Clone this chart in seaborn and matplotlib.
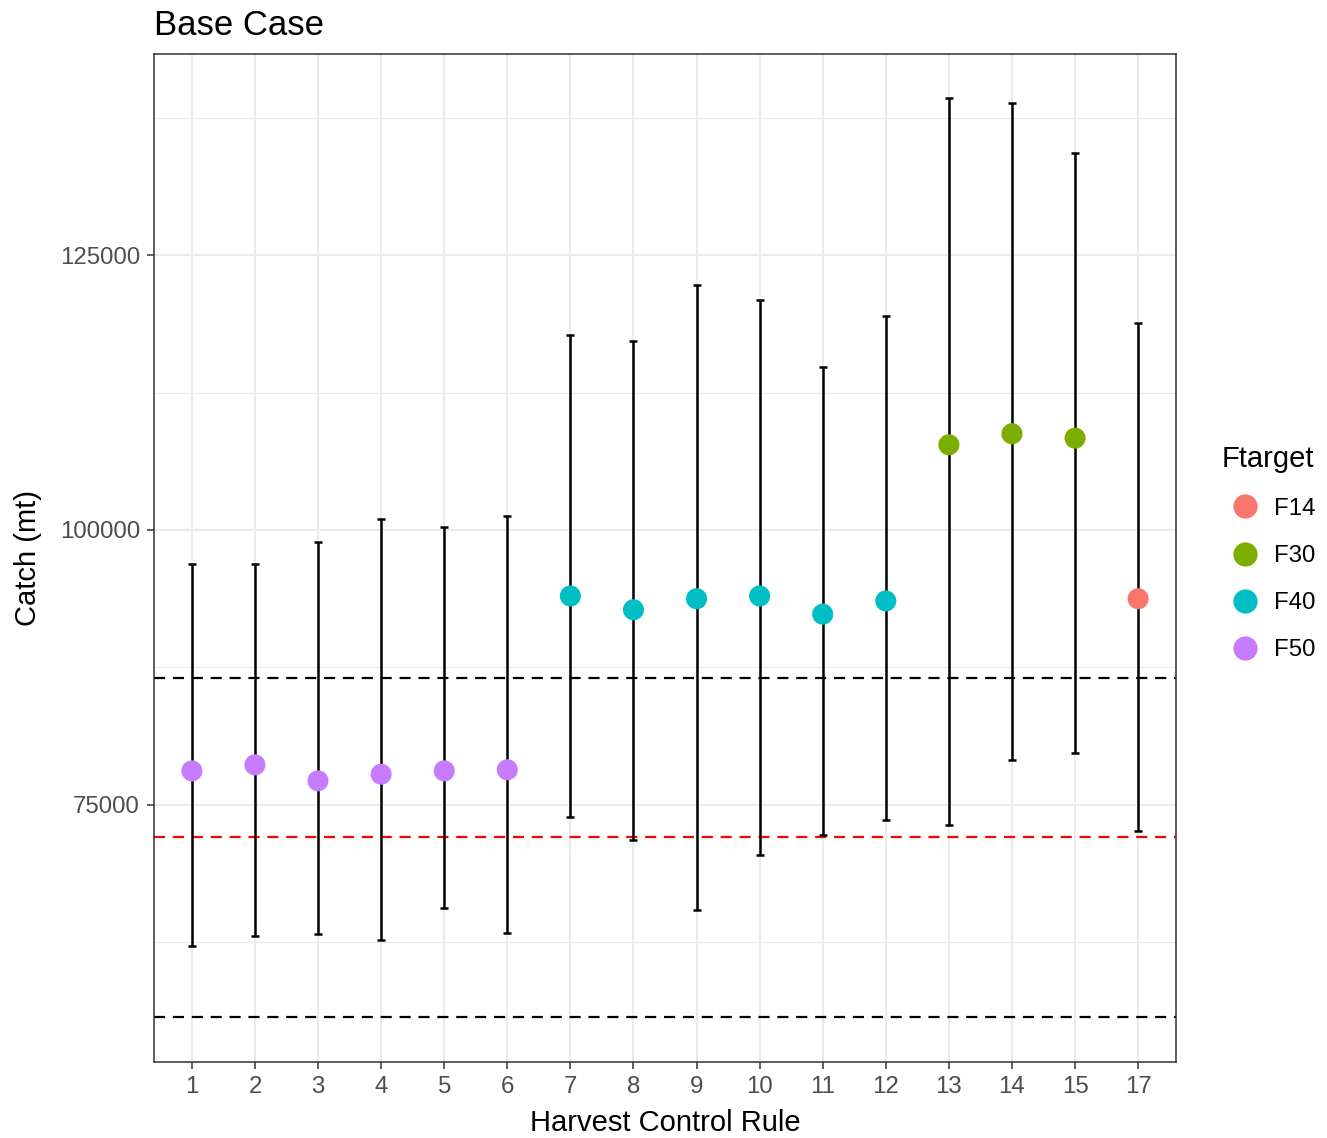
import matplotlib
matplotlib.use("Agg")
import matplotlib.pyplot as plt
import seaborn as sns
import pandas as pd
import numpy as np
from matplotlib.ticker import FixedLocator

# ---- data ----
hcr = ["1", "2", "3", "4", "5", "6", "7", "8", "9", "10", "11", "12", "13", "14", "15", "17"]
ftarget = ["F50", "F50", "F50", "F50", "F50", "F50",
           "F40", "F40", "F40", "F40", "F40", "F40",
           "F30", "F30", "F30", "F14"]
catch_mid = [78100, 78650, 77200, 77800, 78100, 78200,
             94000, 92750, 93750, 94000, 92350, 93550,
             107750, 108750, 108350, 93750]
catch_low = [62200, 63100, 63300, 62750, 65650, 63400,
             73900, 71800, 65450, 70450, 72250, 73650,
             73200, 79100, 79700, 72650]
catch_high = [96900, 96900, 98900, 101000, 100300, 101300,
              117750, 117200, 122300, 120900, 114800, 119450,
              139300, 138850, 134300, 118850]
ref_black = [86550, 55700]
ref_red = [72100]
hue_order = ["F14", "F30", "F40", "F50"]
palette = ["#F8766D", "#7CAE00", "#00BFC4", "#C77CFF"]

df = pd.DataFrame({"HCR": hcr, "Ftarget": ftarget, "Catch": catch_mid,
                   "lo": catch_low, "hi": catch_high})

plt.rcParams["font.family"] = ["Liberation Sans", "DejaVu Sans"]

fig = plt.figure(figsize=(13.27, 11.38), dpi=100)
ax = fig.add_axes([154 / 1327, 1 - 1062 / 1138, 1022 / 1327, 1008 / 1138])

ax.set_facecolor("white")

# reference lines
for v in ref_black:
    ax.axhline(v, color="black", lw=1.6, ls=(0, (5, 3.5)), zorder=2)
for v in ref_red:
    ax.axhline(v, color="#FF0000", lw=1.6, ls=(0, (5, 3.5)), zorder=2)

# error bars
ax.errorbar(df["HCR"], df["Catch"],
            yerr=[df["Catch"] - df["lo"], df["hi"] - df["Catch"]],
            fmt="none", ecolor="black", elinewidth=1.8, capsize=3, capthick=1.8, zorder=3)

sns.scatterplot(data=df, x="HCR", y="Catch", hue="Ftarget", hue_order=hue_order,
                palette=palette, s=230, linewidth=0, ax=ax, zorder=4)

ax.set_xlim(-0.6, len(hcr) - 1 + 0.6)
ax.set_ylim(51636, 143273)

ax.yaxis.set_major_locator(FixedLocator([75000, 100000, 125000]))
ax.yaxis.set_minor_locator(FixedLocator([62500, 87500, 112500, 137500]))
ax.grid(True, which="major", color="#EBEBEB", lw=1.5, zorder=0)
ax.grid(True, which="minor", axis="y", color="#EBEBEB", lw=0.8, zorder=0)
ax.set_axisbelow(True)

ax.tick_params(axis="both", which="major", labelsize=17.3, labelcolor="#4D4D4D",
               color="#333333", length=5, width=1.1, pad=5)
ax.tick_params(axis="y", which="minor", length=0)
for sp in ax.spines.values():
    sp.set_color("#333333")
    sp.set_linewidth(1.1)

ax.set_xlabel("Harvest Control Rule", fontsize=21, color="black", labelpad=8)
ax.set_ylabel("Catch (mt)", fontsize=21, color="black", labelpad=13)
ax.set_title("Base Case", fontsize=25, loc="left", pad=14)

leg = ax.legend(title="Ftarget", loc="center left", bbox_to_anchor=(1.035, 0.505),
                frameon=False, fontsize=17.3, title_fontsize=21,
                markerscale=1.15, handletextpad=0.2, labelspacing=1.05,
                borderaxespad=0)
leg._legend_box.align = "left"

fig.savefig("out.png", dpi=100)
